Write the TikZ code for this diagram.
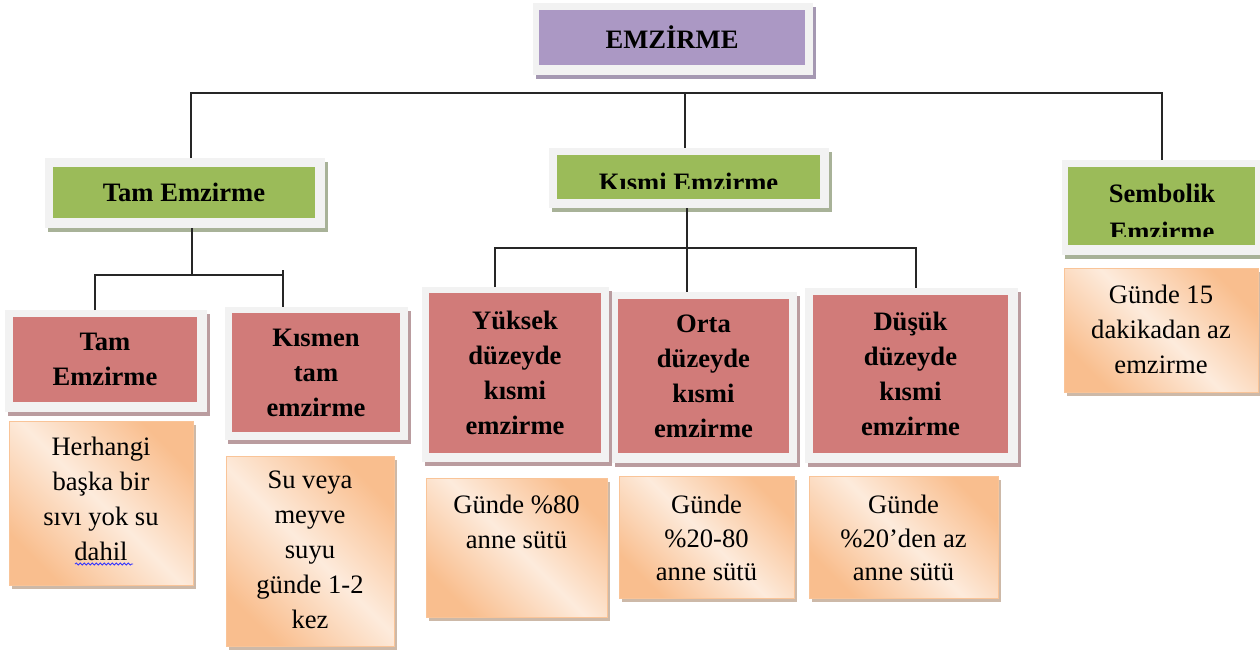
\documentclass[tikz,border=0pt]{standalone}
\usepackage{fontspec}
\setmainfont{Liberation Serif}
\usetikzlibrary{decorations.pathmorphing}
\definecolor{framegray}{RGB}{242,242,242}
\definecolor{purpleC}{RGB}{171,152,196}
\definecolor{greenC}{RGB}{155,187,89}
\definecolor{redC}{RGB}{209,123,121}
\definecolor{purpleS}{RGB}{165,152,178}
\definecolor{greenS}{RGB}{168,178,152}
\definecolor{redS}{RGB}{186,156,159}
\definecolor{peachD}{RGB}{249,190,142}
\definecolor{peachL}{RGB}{253,235,220}
\definecolor{peachB}{RGB}{249,196,152}
\definecolor{peachS}{RGB}{205,185,168}
\tikzset{
  frm/.style={fill=framegray, inner sep=0pt, outer sep=0pt},
  inbox/.style={inner sep=0pt, outer sep=0pt, align=center,
    font=\fontsize{26.6pt}{35pt}\selectfont\bfseries},
  purplebox/.style={inbox, fill=purpleC},
  greenbox/.style={inbox, fill=greenC},
  redbox/.style={inbox, fill=redC},
  gtext/.style={inner sep=0pt, align=center,
    font=\fontsize{26.6pt}{35pt}\selectfont\bfseries},
  peach/.style={draw=peachB, line width=0.8pt, top color=peachD,
    bottom color=peachD, middle color=peachL, shading angle=-45,
    inner sep=0pt, outer sep=0pt},
  ptext/.style={anchor=north, inner sep=0pt, align=center,
    font=\fontsize{26.6pt}{35pt}\selectfont},
  conn/.style={draw=black!85, line width=1.5pt},
  spell/.style={draw=blue!80, line width=0.8pt, decorate,
    decoration={snake, amplitude=1.1pt, segment length=4pt}}
}
% frame with shadow: name, x1, y1, x2, y2, shadow colour
\newcommand\wframe[6]{%
  \fill[#6] ({#2+3},{#3+4}) rectangle ({#4+3},{#5+4});
  \node[frm, minimum width={#4-#2}, minimum height={#5-#3}] (#1) at ({(#2+#4)/2},{(#3+#5)/2}) {};
}
% inner coloured box: name, x1, y1, x2, y2, style, text
\newcommand\wbox[7]{%
  \node[#6, minimum width={#4-#2}, minimum height={#5-#3}] (#1) at ({(#2+#4)/2},{(#3+#5)/2}) {#7};
}
% peach box: name, x1, y1, x2, y2
\newcommand\pbox[5]{%
  \fill[peachS] ({#2+3},{#3+4}) rectangle ({#4+3},{#5+4});
  \node[peach, minimum width={#4-#2}, minimum height={#5-#3}] (#1) at ({(#2+#4)/2},{(#3+#5)/2}) {};
}
\begin{document}
\begin{tikzpicture}[x=1pt, y=-1pt]
\useasboundingbox[fill=white] (0,0) rectangle (1260,650);

% ---- top
\wframe{topF}{533}{3}{813}{75}{purpleS}
\wbox{top}{539}{10}{805}{65}{purplebox}{EMZİRME}

% ---- level 2
\wframe{tamF}{45}{158}{325}{228}{greenS}
\wbox{tam}{53}{167}{315}{218}{greenbox}{Tam Emzirme}

\wframe{kismiF}{549}{148}{829}{208}{greenS}
\wbox{kismi}{557}{155}{820}{199}{greenbox}{}
\begin{scope}
  \clip (557,155) rectangle (820,188.5);
  \node[gtext, anchor=base] (kismiT) at (688.5,191) {Kısmi Emzirme};
\end{scope}

\wframe{sembF}{1062}{160}{1262}{255}{greenS}
\wbox{semb}{1068}{167}{1255}{245}{greenbox}{}
\begin{scope}
  \clip (1068,167) rectangle (1255,236.5);
  \node[gtext, anchor=north, font=\fontsize{26.6pt}{37.5pt}\selectfont\bfseries] (sembT) at (1162,184) {Sembolik\\Emzirme};
\end{scope}

% ---- level 3
\wframe{tamAF}{5}{310}{207}{412}{redS}
\wbox{tamA}{13}{317}{197}{402}{redbox}{Tam\\Emzirme}

\wframe{kismenF}{225}{307}{408}{440}{redS}
\wbox{kismen}{232}{313}{400}{432}{redbox}{Kısmen\\tam\\emzirme}

\wframe{yuksekF}{422}{287}{609}{462}{redS}
\wbox{yuksek}{429}{293}{601}{453}{redbox}{Yüksek\\düzeyde\\kısmi\\emzirme}

\wframe{ortaF}{612}{292}{797}{463}{redS}
\wbox{orta}{618}{299}{789}{453}{redbox}{Orta\\düzeyde\\kısmi\\emzirme}

\wframe{dusukF}{805}{288}{1018}{463}{redS}
\wbox{dusuk}{813}{295}{1008}{453}{redbox}{Düşük\\düzeyde\\kısmi\\emzirme}

% ---- description boxes
\pbox{d1}{9}{421}{193}{585}
\node[ptext] (d1T) at (101,437) {Herhangi\\başka bir\\sıvı yok su\\dahil};
\draw[spell] (75,564) -- (133,564);

\pbox{d2}{226}{456}{394}{646}
\node[ptext] (d2T) at (310,471) {Su veya\\meyve\\suyu\\günde 1-2\\kez};

\pbox{d3}{426}{478}{607}{617}
\node[ptext] (d3T) at (516.5,495) {Günde \%80\\anne sütü};

\pbox{d4}{619}{476}{794}{598}
\node[ptext, font=\fontsize{26.6pt}{33.5pt}\selectfont] (d4T) at (706.5,495) {Günde\\\%20-80\\anne sütü};

\pbox{d5}{809}{476}{998}{598}
\node[ptext, font=\fontsize{26.6pt}{33.5pt}\selectfont] (d5T) at (903.5,495) {Günde\\\%20’den az\\anne sütü};

\pbox{d6}{1064}{268}{1258}{392}
\node[ptext] (d6T) at (1161,285) {Günde 15\\dakikadan az\\emzirme};

% ---- connectors
\coordinate (c1) at (191,93);
\coordinate (c2) at (1162,93);
\coordinate (ck) at (685,93);
\draw[conn] (c1 |- tamF.north) -- (c1) -- (c2) -- (c2 |- sembF.north);
\draw[conn] (ck) -- (ck |- kismiF.north);

\coordinate (t0) at (192,275);
\coordinate (tL) at (95,275);
\coordinate (tR) at (283,275);
\draw[conn] (t0 |- tamF.south) -- (t0);
\draw[conn] (tL |- tamAF.north) -- (tL) -- (tR);
\draw[conn] ([yshift=5pt]tR) -- (tR |- kismenF.north);

\coordinate (kL) at (495,248);
\coordinate (kM) at (687,248);
\coordinate (kR) at (916,248);
\draw[conn] (kL |- yuksekF.north) -- (kL) -- (kR) -- (kR |- dusukF.north);
\draw[conn] (kM |- kismiF.south) -- (kM |- ortaF.north);
\end{tikzpicture}
\end{document}
